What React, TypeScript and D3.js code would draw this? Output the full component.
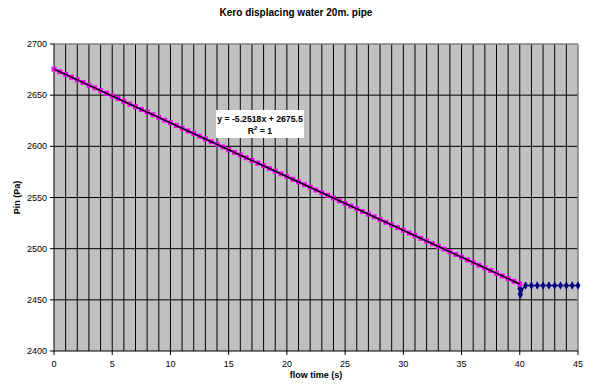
import React from "react";
import * as d3 from "d3";

const title = "Kero displacing water 20m. pipe";
const xLabel = "flow time (s)";
const yLabel = "Pin (Pa)";
const xTicks = [0, 5, 10, 15, 20, 25, 30, 35, 40, 45];
const yTicks = [2400, 2450, 2500, 2550, 2600, 2650, 2700];
const slope = -5.2518;
const intercept = 2675.5;
// magenta series: flow time 0..40 every 0.5 s
const pinkX = [0,0.5,1,1.5,2,2.5,3,3.5,4,4.5,5,5.5,6,6.5,7,7.5,8,8.5,9,9.5,10,10.5,11,11.5,12,12.5,13,13.5,14,14.5,15,15.5,16,16.5,17,17.5,18,18.5,19,19.5,20,20.5,21,21.5,22,22.5,23,23.5,24,24.5,25,25.5,26,26.5,27,27.5,28,28.5,29,29.5,30,30.5,31,31.5,32,32.5,33,33.5,34,34.5,35,35.5,36,36.5,37,37.5,38,38.5,39,39.5,40];
const pinkY = [2675.5,2672.9,2670.2,2667.6,2665.0,2662.4,2659.7,2657.1,2654.5,2651.9,2649.2,2646.6,2644.0,2641.4,2638.7,2636.1,2633.5,2630.9,2628.2,2625.6,2623.0,2620.4,2617.7,2615.1,2612.5,2609.9,2607.2,2604.6,2602.0,2599.4,2596.7,2594.1,2591.5,2588.9,2586.2,2583.6,2581.0,2578.3,2575.7,2573.1,2570.5,2567.8,2565.2,2562.6,2560.0,2557.3,2554.7,2552.1,2549.5,2546.8,2544.2,2541.6,2539.0,2536.3,2533.7,2531.1,2528.5,2525.8,2523.2,2520.6,2518.0,2515.3,2512.7,2510.1,2507.5,2504.8,2502.2,2499.6,2497.0,2494.3,2491.7,2489.1,2486.4,2483.8,2481.2,2478.6,2475.9,2473.3,2470.7,2468.1,2465.4];
// blue series after 40 s
const blueX = [40.0, 40.03, 40.06, 40.1, 40.5, 41, 41.5, 42, 42.5, 43, 43.5, 44, 44.5, 45];
const blueY = [2461, 2456, 2455, 2459, 2464, 2464, 2464, 2464, 2464, 2464, 2464, 2464, 2464, 2464];

const W = 590, H = 387;
const L = 54, R = 578, T = 44, B = 351;

export default function App() {
  const x = d3.scaleLinear().domain([0, 45]).range([L, R]);
  const y = d3.scaleLinear().domain([2400, 2700]).range([B, T]);
  const minor = d3.range(1, 45);
  const line = d3.line<[number, number]>().x(d => x(d[0])).y(d => y(d[1]));
  const pinkPts: [number, number][] = pinkX.map((v, i) => [v, pinkY[i]]);
  const bluePts: [number, number][] = blueX.map((v, i) => [v, blueY[i]]);
  const trend: [number, number][] = [[0, intercept], [40, intercept + slope * 40]];
  const font = "'Liberation Sans', Arial, sans-serif";
  return (
    <svg width={W} height={H} style={{ position: "absolute", left: 0, top: 0 }} fontFamily={font}>
      <rect x={0} y={0} width={W} height={H} fill="#fff" />
      <rect x={L} y={T} width={R - L} height={B - T} fill="#c0c0c0" />
      {minor.map(v => (
        <line key={"v" + v} x1={x(v)} x2={x(v)} y1={T} y2={B} stroke="#000" strokeWidth={1} />
      ))}
      {yTicks.slice(1, -1).map(v => (
        <line key={"h" + v} x1={L} x2={R} y1={y(v)} y2={y(v)} stroke="#000" strokeWidth={1} />
      ))}
      <line x1={L} x2={R} y1={T} y2={T} stroke="#808080" strokeWidth={1.5} />
      <line x1={R} x2={R} y1={T} y2={B} stroke="#808080" strokeWidth={1.5} />
      <line x1={L} x2={L} y1={T} y2={B} stroke="#000" strokeWidth={1} />
      <line x1={L} x2={R} y1={B} y2={B} stroke="#000" strokeWidth={1} />
      {yTicks.map(v => (
        <g key={"yt" + v}>
          <line x1={L - 4} x2={L} y1={y(v)} y2={y(v)} stroke="#000" />
          <text x={L - 7} y={y(v) + 3} fontSize={9} textAnchor="end" fill="#000">{v}</text>
        </g>
      ))}
      {xTicks.map(v => (
        <g key={"xt" + v}>
          <line x1={x(v)} x2={x(v)} y1={B} y2={B + 4} stroke="#000" />
          <text x={x(v)} y={B + 16} fontSize={9} textAnchor="middle" fill="#000">{v}</text>
        </g>
      ))}
      <path d={line(bluePts) || ""} fill="none" stroke="#000080" strokeWidth={1.5} />
      {bluePts.map((p, i) => (
        <path key={"b" + i} d={d3.symbol(d3.symbolDiamond, 20)() || ""} transform={`translate(${x(p[0])},${y(p[1])})`} fill="#000080" />
      ))}
      <path d={line(pinkPts) || ""} fill="none" stroke="#ff00ff" strokeWidth={1.5} />
      {pinkPts.map((p, i) => (
        <rect key={"p" + i} x={x(p[0]) - 2.5} y={y(p[1]) - 2.5} width={5} height={5} fill="#ff00ff" />
      ))}
      <path d={line(trend) || ""} fill="none" stroke="#000" strokeWidth={1.5} />
      <rect x={216} y={110} width={88} height={28} fill="#fff" />
      <text x={260} y={122} fontSize={8.7} fontWeight="bold" textAnchor="middle">y = -5.2518x + 2675.5</text>
      <text x={260} y={134} fontSize={8.7} fontWeight="bold" textAnchor="middle">
        R<tspan dy={-4} fontSize={6}>2</tspan><tspan dy={4}> = 1</tspan>
      </text>
      <text x={296} y={16} fontSize={10} fontWeight="bold" textAnchor="middle">{title}</text>
      <text x={(L + R) / 2} y={378} fontSize={9} fontWeight="bold" textAnchor="middle">{xLabel}</text>
      <text transform={`translate(20,${(T + B) / 2}) rotate(-90)`} fontSize={9} fontWeight="bold" textAnchor="middle">{yLabel}</text>
    </svg>
  );
}
